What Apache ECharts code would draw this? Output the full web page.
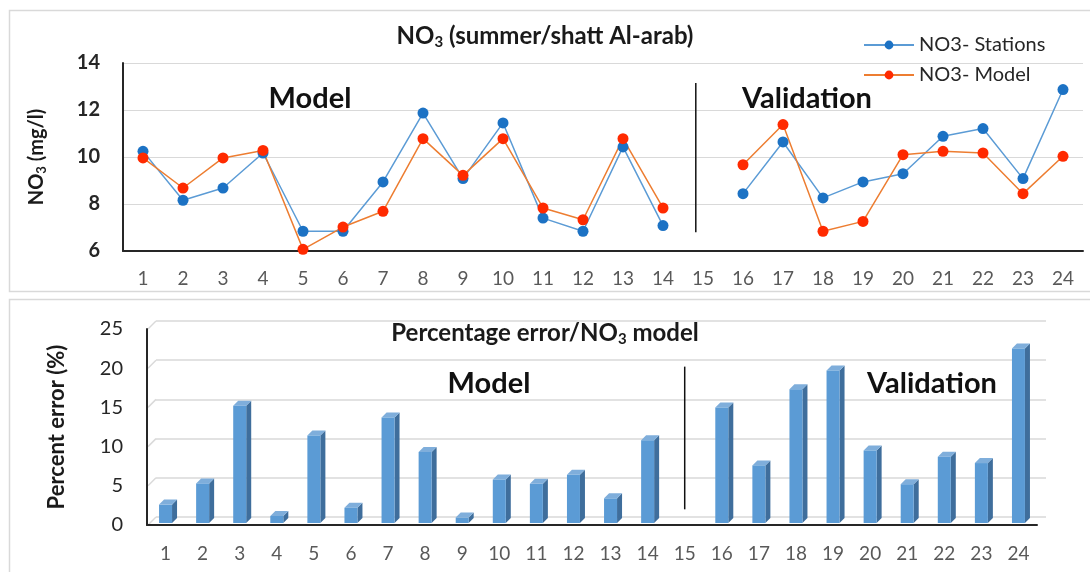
<!DOCTYPE html>
<html>
<head>
<meta charset="utf-8">
<script src="https://cdn.jsdelivr.net/npm/echarts@6/dist/echarts.min.js"></script>
<style>
html,body{margin:0;padding:0;background:#fff;}
#c{width:1090px;height:572px;}
</style>
</head>
<body>
<div id="c"></div>
<script>
const categories = ['1','2','3','4','5','6','7','8','9','10','11','12','13','14','15','16','17','18','19','20','21','22','23','24'];
const stations = [10.24, 8.16, 8.68, 10.17, 6.84, 6.84, 8.94, 11.87, 9.08, 11.45, 7.40, 6.84, 10.43, 7.08, null, 8.44, 10.64, 8.26, 8.94, 9.29, 10.88, 11.21, 9.08, 12.87];
const model = [9.96, 8.68, 9.96, 10.28, 6.07, 7.02, 7.69, 10.78, 9.22, 10.78, 7.83, 7.33, 10.78, 7.83, null, 9.67, 11.38, 6.84, 7.26, 10.10, 10.24, 10.17, 8.44, 10.03];
const percentError = [2.6, 5.3, 15.2, 1.15, 11.4, 2.2, 13.7, 9.3, 0.95, 5.8, 5.25, 6.4, 3.4, 10.8, null, 15.0, 7.6, 17.3, 19.7, 9.5, 5.2, 8.7, 7.9, 22.5];
const topTicks = {min: 6, max: 14, interval: 2};
const bottomTicks = {min: 0, max: 25, interval: 5};

const FONT = 'Lato';
const chart = echarts.init(document.getElementById('c'), null, {renderer: 'canvas'});

function bar3d(params, api) {
  const idx = api.value(0);
  const v = api.value(1);
  const base = api.coord([idx, 0]);
  const top = api.coord([idx, v]);
  const w = 13, d = 5;
  const x0 = base[0] - w / 2, x1 = base[0] + w / 2;
  const yb = base[1] - 2, yt = top[1];
  return {
    type: 'group',
    children: [
      {type: 'polygon', shape: {points: [[x1, yt], [x1 + d, yt - d], [x1 + d, yb - d], [x1, yb]]}, style: {fill: '#3F6E9C'}},
      {type: 'polygon', shape: {points: [[x0, yt], [x0 + d, yt - d], [x1 + d, yt - d], [x1, yt]]}, style: {fill: '#7FAEDB'}},
      {type: 'rect', shape: {x: x0, y: yt, width: w, height: yb - yt}, style: {fill: '#5B9BD5'}}
    ]
  };
}

const titleRich = {a: {fontFamily: FONT, fontSize: 24, fontWeight: 'bold', color: '#1a1a1a'},
                   s: {fontFamily: FONT, fontSize: 15, fontWeight: 'bold', color: '#1a1a1a', verticalAlign: 'bottom', padding: [12, 0, 0, 0]}};

const option = {
  animation: false,
  backgroundColor: '#fff',
  textStyle: {fontFamily: FONT},
  title: [
    {text: '{a|NO}{s|3}{a| (summer/shatt Al-arab)}', left: 'center', top: 18, textStyle: {rich: titleRich}},
    {text: '{a|Percentage error/NO}{s|3}{a| model}', left: 'center', top: 315, textStyle: {rich: titleRich}}
  ],
  legend: {
    data: ['NO3- Stations', 'NO3- Model'],
    orient: 'vertical', left: 858, top: 30, itemWidth: 50, itemHeight: 11, itemGap: 10,
    textStyle: {fontFamily: FONT, fontSize: 20, color: '#262626'}
  },
  grid: [
    {left: 123, right: 7, top: 63, height: 188},
    {left: 147, right: 53, top: 329, bottom: 47},
    {left: 156, right: 44, top: 321, bottom: 55}
  ],
  xAxis: [
    {type: 'category', gridIndex: 0, data: categories, boundaryGap: true,
     axisLine: {lineStyle: {color: '#262626', width: 2}}, axisTick: {show: false},
     axisLabel: {fontFamily: FONT, fontSize: 19, color: '#595959', margin: 18, interval: 0}},
    {type: 'category', gridIndex: 1, data: categories, boundaryGap: true,
     axisLine: {lineStyle: {color: '#262626', width: 2}}, axisTick: {show: false},
     axisLabel: {fontFamily: FONT, fontSize: 19, color: '#595959', margin: 19, interval: 0}, z: 5},
    {type: 'category', gridIndex: 2, data: categories, show: false}
  ],
  yAxis: [
    {type: 'value', gridIndex: 0, min: topTicks.min, max: topTicks.max, interval: topTicks.interval,
     name: '{a|NO}{s|3}{a| (mg/l)}', nameLocation: 'middle', nameGap: 75, nameRotate: 90,
     nameTextStyle: {rich: {a: {fontFamily: FONT, fontSize: 20, fontWeight: 'bold', color: '#1a1a1a'},
                            s: {fontFamily: FONT, fontSize: 13, fontWeight: 'bold', color: '#1a1a1a', verticalAlign: 'bottom', padding: [9, 0, 0, 0]}}},
     axisLine: {show: true, lineStyle: {color: '#262626', width: 2}}, axisTick: {show: false},
     axisLabel: {fontFamily: FONT, fontSize: 20, fontWeight: 'bold', color: '#262626', margin: 23},
     splitLine: {lineStyle: {color: '#d9d9d9', width: 1}}},
    {type: 'value', gridIndex: 1, min: bottomTicks.min, max: bottomTicks.max, interval: bottomTicks.interval,
     name: 'Percent error (%)', nameLocation: 'middle', nameGap: 79, nameRotate: 90,
     nameTextStyle: {fontFamily: FONT, fontSize: 22, fontWeight: 'bold', color: '#1a1a1a'},
     axisLine: {show: true, lineStyle: {color: '#262626', width: 2}}, axisTick: {show: false},
     axisLabel: {fontFamily: FONT, fontSize: 20, color: '#262626', margin: 24},
     splitLine: {show: false}},
    {type: 'value', gridIndex: 2, min: bottomTicks.min, max: bottomTicks.max, interval: bottomTicks.interval,
     axisLine: {show: false}, axisTick: {show: false}, axisLabel: {show: false},
     splitLine: {lineStyle: {color: '#d9d9d9', width: 1.5}}}
  ],
  series: [
    {name: 'NO3- Stations', type: 'line', xAxisIndex: 0, yAxisIndex: 0, data: stations,
     symbol: 'circle', symbolSize: 11, connectNulls: false,
     itemStyle: {color: '#1C72C4'}, lineStyle: {color: '#5B9BD5', width: 1.5}},
    {name: 'NO3- Model', type: 'line', xAxisIndex: 0, yAxisIndex: 0, data: model,
     symbol: 'circle', symbolSize: 11, connectNulls: false,
     itemStyle: {color: '#FF2A00'}, lineStyle: {color: '#ED7D31', width: 1.5}},
    {name: 'Percent error', type: 'custom', xAxisIndex: 1, yAxisIndex: 1,
     renderItem: bar3d, encode: {x: 0, y: 1},
     data: percentError.map((v, i) => [i, v]).filter(p => p[1] !== null)}
  ]
};
chart.setOption(option);

const t14 = chart.convertToPixel({xAxisIndex: 0, yAxisIndex: 0}, ['14', 13.15]);
const t15 = chart.convertToPixel({xAxisIndex: 0, yAxisIndex: 0}, ['15', 6.8]);
const divX = t14[0] + 0.82 * (t15[0] - t14[0]);
const b15top = chart.convertToPixel({xAxisIndex: 1, yAxisIndex: 1}, ['15', 20.2]);
const b15bot = chart.convertToPixel({xAxisIndex: 1, yAxisIndex: 1}, ['15', 2.0]);

// back-wall corner lines joining the front axis to the gridlines behind
const frontL = chart.convertToPixel({xAxisIndex: 1, yAxisIndex: 1}, [0, 0]);
const corners = [];
for (let v = bottomTicks.min; v <= bottomTicks.max; v += bottomTicks.interval) {
  const f = chart.convertToPixel({yAxisIndex: 1}, v);
  const b = chart.convertToPixel({yAxisIndex: 2}, v);
  corners.push({type: 'line', shape: {x1: 148, y1: f, x2: 156, y2: b}, style: {stroke: '#d9d9d9', lineWidth: 1.5}, z: -5});
}

const lbl = (text, cx, cy) => ({type: 'text', x: cx, y: cy, z: 10,
  style: {text: text, fontFamily: FONT, fontSize: 29, fontWeight: 'bold', fill: '#111', align: 'center', verticalAlign: 'middle'}});

chart.setOption({
  graphic: [
    {type: 'rect', shape: {x: 9.5, y: 10.5, width: 1100, height: 281}, style: {fill: 'none', stroke: '#d9d9d9', lineWidth: 1.5}, z: -10},
    {type: 'rect', shape: {x: 9.5, y: 299.5, width: 1100, height: 300}, style: {fill: 'none', stroke: '#d9d9d9', lineWidth: 1.5}, z: -10},
    {type: 'line', shape: {x1: divX, y1: t14[1], x2: divX, y2: t15[1]}, style: {stroke: '#111', lineWidth: 1.5}, z: 10},
    {type: 'line', shape: {x1: b15top[0], y1: b15top[1], x2: b15bot[0], y2: b15bot[1]}, style: {stroke: '#111', lineWidth: 1.5}, z: 10},
    ...corners,
    lbl('Model', 310, 99),
    lbl('Validation', 807, 99),
    lbl('Model', 489, 384),
    lbl('Validation', 932, 384)
  ]
});
</script>
</body>
</html>
